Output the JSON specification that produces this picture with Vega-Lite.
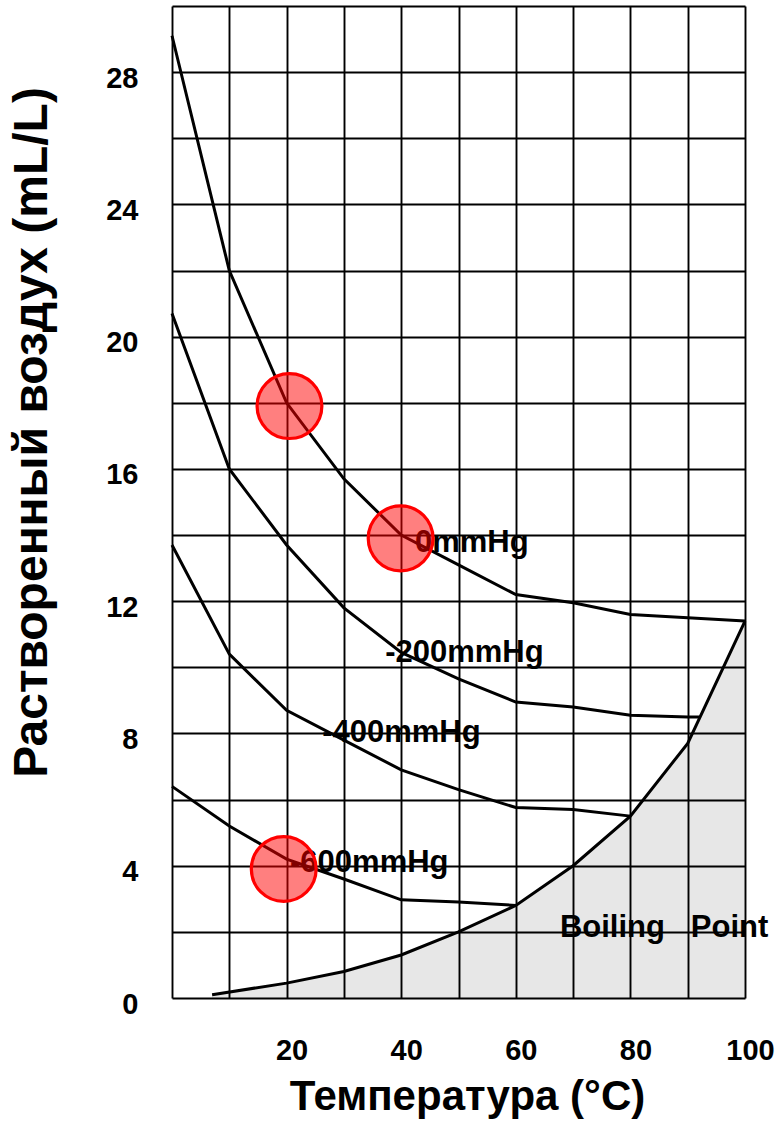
{
  "$schema": "https://vega.github.io/schema/vega-lite/v6.json",
  "width": 573,
  "height": 992,
  "autosize": {"type": "none"},
  "padding": {"left": 172, "top": 6, "right": 34, "bottom": 123},
  "background": "white",
  "config": {
    "view": {"stroke": null},
    "font": "Liberation Sans",
    "axis": {
      "labelFont": "Liberation Sans",
      "labelFontWeight": "bold",
      "labelFontSize": 29,
      "labelColor": "#000",
      "titleFont": "Liberation Sans",
      "titleFontWeight": "bold",
      "titleColor": "#000",
      "ticks": false,
      "domain": false,
      "grid": true,
      "gridColor": "#000",
      "gridWidth": 1.9,
      "gridOpacity": 1,
      "labelOverlap": false,
      "labelBound": false,
      "labelFlush": false
    }
  },
  "datasets": {
    "curves": [
      {"series": "0mmHg", "t": 0, "v": 29.1},
      {"series": "0mmHg", "t": 10, "v": 22.0},
      {"series": "0mmHg", "t": 20, "v": 18.0},
      {"series": "0mmHg", "t": 30, "v": 15.7},
      {"series": "0mmHg", "t": 40, "v": 14.0},
      {"series": "0mmHg", "t": 50, "v": 13.1},
      {"series": "0mmHg", "t": 60, "v": 12.2},
      {"series": "0mmHg", "t": 70, "v": 11.95},
      {"series": "0mmHg", "t": 80, "v": 11.6},
      {"series": "0mmHg", "t": 90, "v": 11.5},
      {"series": "0mmHg", "t": 100, "v": 11.4},
      {"series": "-200mmHg", "t": 0, "v": 20.7},
      {"series": "-200mmHg", "t": 10, "v": 16.0},
      {"series": "-200mmHg", "t": 20, "v": 13.7},
      {"series": "-200mmHg", "t": 30, "v": 11.8},
      {"series": "-200mmHg", "t": 40, "v": 10.45},
      {"series": "-200mmHg", "t": 50, "v": 9.65},
      {"series": "-200mmHg", "t": 60, "v": 8.95},
      {"series": "-200mmHg", "t": 70, "v": 8.8},
      {"series": "-200mmHg", "t": 80, "v": 8.55},
      {"series": "-200mmHg", "t": 90, "v": 8.5},
      {"series": "-200mmHg", "t": 92, "v": 8.5},
      {"series": "-400mmHg", "t": 0, "v": 13.7},
      {"series": "-400mmHg", "t": 10, "v": 10.4},
      {"series": "-400mmHg", "t": 20, "v": 8.7},
      {"series": "-400mmHg", "t": 30, "v": 7.8},
      {"series": "-400mmHg", "t": 40, "v": 6.9},
      {"series": "-400mmHg", "t": 50, "v": 6.3},
      {"series": "-400mmHg", "t": 60, "v": 5.76},
      {"series": "-400mmHg", "t": 70, "v": 5.7},
      {"series": "-400mmHg", "t": 80, "v": 5.5},
      {"series": "-600mmHg", "t": 0, "v": 6.4},
      {"series": "-600mmHg", "t": 10, "v": 5.2},
      {"series": "-600mmHg", "t": 20, "v": 4.2},
      {"series": "-600mmHg", "t": 30, "v": 3.6},
      {"series": "-600mmHg", "t": 40, "v": 2.97},
      {"series": "-600mmHg", "t": 50, "v": 2.9},
      {"series": "-600mmHg", "t": 60, "v": 2.8},
      {"series": "Boiling", "t": 7, "v": 0.1},
      {"series": "Boiling", "t": 20, "v": 0.45},
      {"series": "Boiling", "t": 30, "v": 0.8},
      {"series": "Boiling", "t": 40, "v": 1.3},
      {"series": "Boiling", "t": 50, "v": 2.0},
      {"series": "Boiling", "t": 60, "v": 2.8},
      {"series": "Boiling", "t": 70, "v": 4.0},
      {"series": "Boiling", "t": 80, "v": 5.5},
      {"series": "Boiling", "t": 90, "v": 7.7},
      {"series": "Boiling", "t": 100, "v": 11.4}
    ],
    "labels": [
      {"label": "0mmHg", "t": 42.4, "v": 13.5},
      {"label": "-200mmHg", "t": 37.2, "v": 10.15},
      {"label": "-400mmHg", "t": 26.2, "v": 7.73},
      {"label": "-600mmHg", "t": 20.6, "v": 3.82},
      {"label": "Boiling\u00a0\u00a0\u00a0Point", "t": 67.7, "v": 1.85}
    ],
    "circles": [
      {"t": 20.5, "v": 17.9},
      {"t": 39.9, "v": 13.9},
      {"t": 19.5, "v": 3.9}
    ]
  },
  "layer": [
    {
      "data": {"name": "curves"},
      "transform": [{"filter": "datum.series == 'Boiling'"}],
      "mark": {"type": "area", "color": "#000", "opacity": 0.095},
      "encoding": {
        "x": {
          "field": "t", "type": "quantitative",
          "scale": {"domain": [0, 100], "nice": false},
          "axis": {
            "values": [0, 10, 20, 30, 40, 50, 60, 70, 80, 90, 100],
            "labelExpr": "datum.value % 20 == 0 && datum.value > 0 ? datum.label : ''",
            "labelOffset": 5,
            "labelPadding": 38,
            "labelBaseline": "top",
            "title": "Температура (°C)",
            "titleFontSize": 42,
            "titleX": 295,
            "titleY": 111,
            "titleAlign": "center",
            "titleBaseline": "alphabetic",
            "titleAngle": 0
          }
        },
        "y": {
          "field": "v", "type": "quantitative",
          "scale": {"domain": [0, 30], "nice": false},
          "axis": {
            "values": [0, 2, 4, 6, 8, 10, 12, 14, 16, 18, 20, 22, 24, 26, 28, 30],
            "labelExpr": "datum.value % 4 == 0 && datum.value <= 28 ? datum.label : ''",
            "labelOffset": 6,
            "labelPadding": 34,
            "labelAlign": "right",
            "labelBaseline": "middle",
            "title": "Растворенный воздух (mL/L)",
            "titleFontSize": 48,
            "titleAngle": -90,
            "titleX": -126,
            "titleY": 426,
            "titleAlign": "center",
            "titleBaseline": "alphabetic"
          }
        }
      }
    },
    {
      "data": {"name": "curves"},
      "mark": {"type": "line", "color": "#000", "strokeWidth": 3},
      "encoding": {
        "x": {"field": "t", "type": "quantitative"},
        "y": {"field": "v", "type": "quantitative"},
        "detail": {"field": "series"},
        "order": {"field": "t"}
      }
    },
    {
      "data": {"name": "labels"},
      "mark": {"type": "text", "font": "Liberation Sans", "fontWeight": "bold", "fontSize": 31, "align": "left", "baseline": "alphabetic", "color": "#000"},
      "encoding": {
        "x": {"field": "t", "type": "quantitative"},
        "y": {"field": "v", "type": "quantitative"},
        "text": {"field": "label"}
      }
    },
    {
      "data": {"name": "circles"},
      "mark": {"type": "point", "shape": "circle", "filled": true, "size": 4200, "fill": "#ff0000", "fillOpacity": 0.5, "stroke": "#ff0000", "strokeWidth": 3.2, "strokeOpacity": 1, "opacity": 1},
      "encoding": {
        "x": {"field": "t", "type": "quantitative"},
        "y": {"field": "v", "type": "quantitative"}
      }
    }
  ]
}
